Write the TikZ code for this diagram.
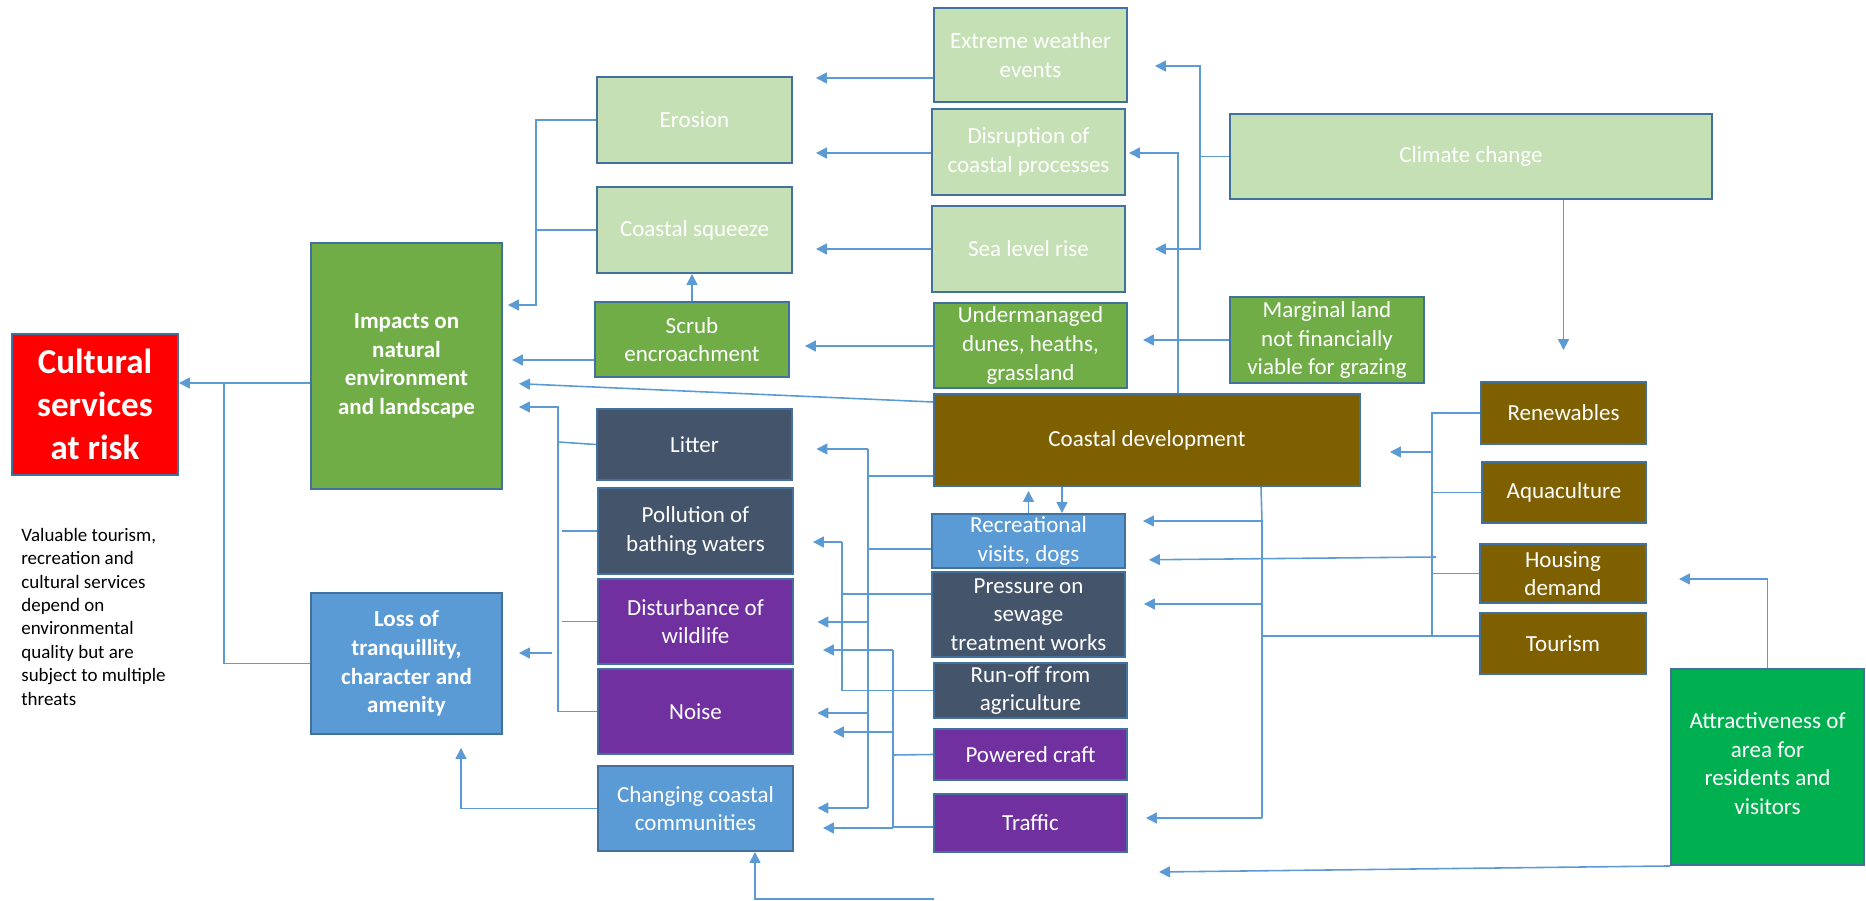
\documentclass[tikz,border=0pt]{standalone}
\usepackage{fontspec}
\setmainfont{Carlito}
\usetikzlibrary{arrows.meta, fit, calc, positioning}

\definecolor{lgreen}{HTML}{C5E0B4}
\definecolor{mgreen}{HTML}{70AD47}
\definecolor{bgreen}{HTML}{00B050}
\definecolor{slate}{HTML}{44546A}
\definecolor{purp}{HTML}{7030A0}
\definecolor{lblue}{HTML}{5B9BD5}
\definecolor{brown}{HTML}{7F6000}
\definecolor{edgeblue}{HTML}{41719C}
\definecolor{link}{HTML}{5B9BD5}

\begin{document}
\begin{tikzpicture}[x=0.02cm, y=-0.02cm,
    box/.style={draw=edgeblue, line width=1.1pt, inner sep=0pt},
    txt/.style={text=white, align=center, inner sep=0pt,
      font=\fontsize{13.1}{16.3}\selectfont},
    boldtxt/.style={txt, font=\fontsize{13.1}{16.3}\selectfont\bfseries},
    conn/.style={draw=link, line width=0.9pt, -{Triangle[length=0.22cm,width=0.22cm]}},
    wire/.style={draw=link, line width=0.9pt}]
    \useasboundingbox (0,0) rectangle (1866,901);

    % boxes
    \node[box, fill=red, fit={(12,334) (178,475)},
        label={[txt, font=\fontsize{19.9}{24.4}\selectfont\bfseries]center:{Cultural\\services\\at risk}}] (cult) {};
    \node[box, fill=mgreen, fit={(311,243) (502,489)}, label={[boldtxt]center:{Impacts on\\natural\\environment\\and landscape}}] (impacts) {};
    \node[box, fill=lblue, fit={(311,593) (502,734)}, label={[boldtxt]center:{Loss of\\tranquillity,\\character and\\amenity}}] (loss) {};

    \node[box, fill=lgreen, fit={(597,77) (792,163)}, label={[txt]center:{Erosion}}] (erosion) {};
    \node[box, fill=lgreen, fit={(597,187) (792,273)}, label={[txt]center:{Coastal squeeze}}] (squeeze) {};
    \node[box, fill=mgreen, fit={(595,302) (789,377)}, label={[txt]center:{Scrub\\encroachment}}] (scrub) {};
    \node[box, fill=slate, fit={(597,409) (792,480)}, label={[txt]center:{Litter}}] (litter) {};
    \node[box, fill=slate, fit={(598,488) (793,574)}, label={[txt]center:{Pollution of\\bathing waters}}] (bathing) {};
    \node[box, fill=purp, fit={(598,579) (793,664)}, label={[txt]center:{Disturbance of\\wildlife}}] (wildlife) {};
    \node[box, fill=purp, fit={(598,669) (793,754)}, label={[txt]center:{Noise}}] (noise) {};
    \node[box, fill=lblue, fit={(598,766) (793,851)}, label={[txt]center:{Changing coastal\\communities}}] (communities) {};

    \node[box, fill=lgreen, fit={(934,8) (1127,102)}, label={[txt]center:{Extreme weather\\events}}] (extreme) {};
    \node[box, fill=lgreen, fit={(932,109) (1125,195)}, label={[txt]center:{Disruption of\\coastal processes}}] (disruption) {};
    \node[box, fill=lgreen, fit={(932,206) (1125,292)}, label={[txt]center:{Sea level rise}}] (sealevel) {};
    \node[box, fill=mgreen, fit={(934,303) (1127,388)}, label={[txt]center:{Undermanaged\\dunes, heaths,\\grassland}}] (dunes) {};
    \node[box, fill=brown, fit={(934,394) (1360,486)}, label={[txt]center:{Coastal development}}] (coastdev) {};
    \node[box, fill=lblue, fit={(932,514) (1125,568)}, label={[txt]center:{Recreational\\visits, dogs}}] (recreation) {};
    \node[box, fill=slate, fit={(932,572) (1125,657)}, label={[txt]center:{Pressure on\\sewage\\treatment works}}] (sewage) {};
    \node[box, fill=slate, fit={(934,663) (1127,718)}, label={[txt]center:{Run-off from\\agriculture}}] (runoff) {};
    \node[box, fill=purp, fit={(934,729) (1127,780)}, label={[txt]center:{Powered craft}}] (craft) {};
    \node[box, fill=purp, fit={(934,794) (1127,852)}, label={[txt]center:{Traffic}}] (traffic) {};

    \node[box, fill=lgreen, fit={(1230,114) (1712,199)}, label={[txt]center:{Climate change}}] (climate) {};
    \node[box, fill=mgreen, fit={(1230,297) (1424,383)}, label={[txt]center:{Marginal land\\not financially\\viable for grazing}}] (marginal) {};
    \node[box, fill=brown, fit={(1481,382) (1646,444)}, label={[txt]center:{Renewables}}] (renew) {};
    \node[box, fill=brown, fit={(1482,462) (1646,523)}, label={[txt]center:{Aquaculture}}] (aqua) {};
    \node[box, fill=brown, fit={(1480,544) (1646,603)}, label={[txt]center:{Housing\\demand}}] (housing) {};
    \node[box, fill=brown, fit={(1480,613) (1646,674)}, label={[txt]center:{Tourism}}] (tourism) {};
    \node[box, fill=bgreen, fit={(1671,669) (1864,865)}, label={[txt, yshift=0.07cm]center:{Attractiveness of\\area for\\residents and\\visitors}}] (attract) {};

    \node[anchor=north west, align=left, inner sep=0pt, font=\fontsize{10.8}{13.3}\selectfont] (note) at (21,528)
        {Valuable tourism,\\recreation and\\cultural services\\depend on\\environmental\\quality but are\\subject to multiple\\threats};

    % left side
    \draw[conn] (impacts.west |- 0,383) -- (cult.east |- 0,383);
    \draw[wire] (loss.west) -| (224,383);
    \draw[conn, shorten >=0.1cm] (erosion.west) -- ++(-60,0) |- (impacts.east |- 0,305);
    \draw[wire] (squeeze.west) -- ++(-60,0);
    \draw[conn] (scrub.north) -- (scrub.north |- squeeze.south);
    \draw[conn, shorten >=0.18cm] (scrub.west |- 0,360) -- (impacts.east |- 0,360);
    \draw[conn, shorten >=0.32cm] (coastdev.west |- 0,402) -- (impacts.east |- 0,383);

    % litter, pollution, disturbance, noise
    \draw[conn, shorten >=0.32cm] (noise.west) -| (558,407) -- (impacts.east |- 0,407);
    \draw[wire] (litter.west) -- (558,442);
    \draw[wire] (bathing.west) -- ++(-35,0);
    \draw[wire] (wildlife.west) -- ++(-35,0);
    \draw[conn, shorten >=0.32cm] (552,653) -- (loss.east |- 0,653);
    \draw[conn, shorten >=0.26cm] (communities.west) -| ([xshift=1.09cm]loss.south);
    \coordinate (lowend) at (934,899);
    \draw[conn] (lowend) -| ([xshift=1.19cm]communities.south);

    % climate change
    \draw[wire] (climate.west) -- ++(-29,0) coordinate (cc);
    \draw[conn, shorten >=0.54cm] (cc) |- (extreme.east |- 0,66);
    \draw[conn, shorten >=0.58cm] (cc) |- (sealevel.east |- 0,249);
    \draw[conn, shorten >=0.06cm] (coastdev.north -| 1178,0) |- (disruption.east |- 0,153);
    \draw[conn, shorten >=0.62cm] (renew.north |- climate.south) -- (renew.north);
    \draw[conn, shorten >=0.3cm] (marginal.west) -- (dunes.east |- marginal.west);
    \draw[conn, shorten >=0.46cm] (extreme.west |- 0,78) -- (erosion.east |- 0,78);
    \draw[conn, shorten >=0.46cm] (disruption.west |- 0,153) -- (erosion.east |- 0,153);
    \draw[conn, shorten >=0.46cm] (sealevel.west |- 0,249) -- (squeeze.east |- 0,249);
    \draw[conn, shorten >=0.3cm] (dunes.west |- 0,346) -- (scrub.east |- 0,346);

    % coastal development and recreation
    \draw[conn, shorten >=0.08cm] (recreation.north) -- (recreation.north |- coastdev.south);
    \draw[conn] (coastdev.south -| 1062,0) -- (recreation.north -| 1062,0);
    \draw[wire] (coastdev.west |- 0,476) -- (868,476);
    \draw[wire] (recreation.west |- 0,549) -- (868,549);
    \draw[wire] (868,449) -- (868,808);
    \foreach \y/\t in {449/litter, 622/wildlife, 713/noise, 808/communities}
        \draw[conn, shorten >=0.47cm] (868,\y) -- (\t.east |- 0,\y);

    % sewage and run-off
    \draw[wire] (sewage.west |- 0,594) -| (842,542);
    \draw[wire] (runoff.west) -| (842,594);
    \draw[conn, shorten >=0.38cm] (842,542) -- (bathing.east |- 0,542);

    % powered craft and traffic
    \draw[wire] (traffic.west |- 0,827) -| (893,650);
    \draw[wire] (craft.west) -- (893,755);
    \draw[conn, shorten >=0.58cm] (893,650) -- (wildlife.east |- 0,650);
    \draw[conn, shorten >=0.78cm] (893,732) -- (noise.east |- 0,732);
    \draw[conn, shorten >=0.58cm] (893,828) -- (communities.east |- 0,828);

    % tourism bus
    \draw[wire] (coastdev.south -| 1261,0) -- (1262,522) -- (1262,818);
    \draw[wire] (tourism.west |- 0,636) -- (1262,636);
    \draw[conn, shorten >=0.34cm] (1262,521) -- (recreation.east |- 0,521);
    \draw[conn, shorten >=0.36cm] (1262,604) -- (sewage.east |- 0,604);
    \draw[conn, shorten >=0.36cm] (1262,818) -- (traffic.east |- 0,818);

    % drivers of development
    \draw[wire] (renew.west) -| (1432,636);
    \draw[wire] (aqua.west) -- ++(-50,0);
    \draw[wire] (housing.west) -- ++(-48,0);
    \draw[conn, shorten >=0.58cm] (1432,452) -- (coastdev.east |- 0,452);
    \draw[conn, shorten >=0.46cm] (1436,557) -- (recreation.east |- 0,560);

    % attractiveness
    \draw[conn, shorten >=0.64cm] (attract.north) |- (housing.east |- 0,579);
    \coordinate (attrend) at (1159,872);
    \draw[conn] (attract.south west) -- (attrend);
\end{tikzpicture}
\end{document}
